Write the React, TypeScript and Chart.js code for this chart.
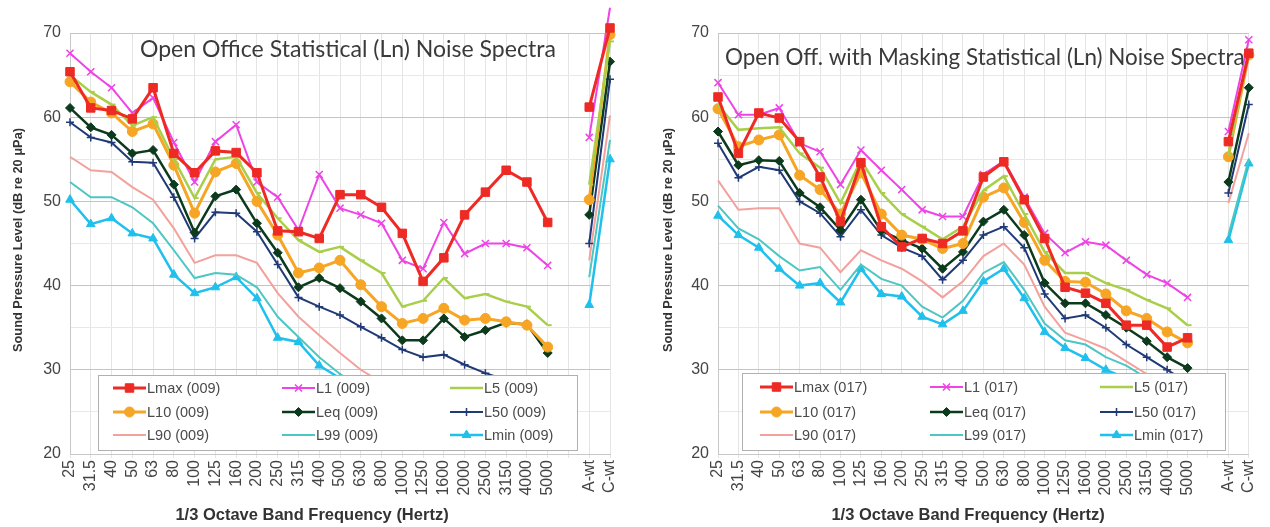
import React, { useEffect, useRef } from "react";
import { Chart, registerables } from "chart.js";
import { drawPoint } from "chart.js/helpers";
Chart.register(...registerables);

// ---------- categories ----------
const bandLabels = ["25", "31.5", "40", "50", "63", "80", "100", "125", "160", "200", "250", "315", "400", "500", "630", "800", "1000", "1250", "1600", "2000", "2500", "3150", "4000", "5000"];
const weightLabels = ["A-wt", "C-wt"];
const yTickValues = [20, 30, 40, 50, 60, 70];
const seriesNames = ["Lmax", "L1", "L5", "L10", "Leq", "L50", "L90", "L99", "Lmin"];

// ---------- Open Office (009) ----------
const officeLmax = [65.4, 61.1, 60.8, 59.8, 63.5, 55.7, 53.4, 56.0, 55.8, 53.4, 46.5, 46.4, 45.6, 50.8, 50.8, 49.3, 46.2, 40.5, 43.3, 48.4, 51.1, 53.7, 52.3, 47.5];
const officeL1 = [67.6, 65.4, 63.5, 60.5, 62.3, 57.0, 52.3, 57.1, 59.1, 52.3, 50.5, 46.6, 53.2, 49.2, 48.4, 47.4, 43.0, 42.0, 47.5, 43.8, 45.0, 45.0, 44.5, 42.4];
const officeL5 = [65.0, 63.0, 61.5, 59.0, 60.0, 55.0, 50.4, 55.0, 55.3, 51.0, 48.0, 45.4, 44.0, 44.6, 43.0, 41.5, 37.5, 38.2, 40.9, 38.5, 39.0, 38.1, 37.5, 35.3];
const officeL10 = [64.2, 61.8, 60.5, 58.3, 59.2, 54.3, 48.6, 53.5, 54.5, 50.0, 46.0, 41.5, 42.1, 43.0, 40.1, 37.5, 35.5, 36.1, 37.3, 35.9, 36.1, 35.7, 35.3, 32.7];
const officeLeq = [61.1, 58.8, 57.9, 55.7, 56.1, 52.0, 46.3, 50.6, 51.4, 47.4, 43.9, 39.8, 40.9, 39.7, 38.1, 36.1, 33.5, 33.5, 36.1, 33.9, 34.7, 35.6, 35.4, 32.0];
const officeL50 = [59.4, 57.6, 57.0, 54.7, 54.6, 50.5, 45.6, 48.7, 48.6, 46.4, 42.5, 38.6, 37.5, 36.5, 35.1, 33.8, 32.4, 31.5, 31.8, 30.6, 29.6, 28.8, 28.0, 27.0];
const officeL90 = [55.3, 53.7, 53.5, 51.7, 50.2, 46.8, 42.7, 43.6, 43.6, 42.7, 39.1, 36.3, 34.1, 32.0, 30.0, 28.5, 27.5, 27.0, 26.8, 26.0, 25.5, 25.0, 24.5, 24.0];
const officeL99 = [52.3, 50.5, 50.5, 49.3, 47.4, 44.2, 40.9, 41.5, 41.3, 39.8, 36.3, 33.9, 31.5, 29.5, 28.0, 27.0, 26.0, 25.5, 26.0, 25.0, 24.5, 24.0, 23.5, 23.0];
const officeLmin = [50.2, 47.3, 48.0, 46.2, 45.6, 41.3, 39.1, 39.8, 41.0, 38.5, 33.8, 33.3, 30.5, 29.0, 28.0, 27.0, 26.0, 25.5, 26.0, 25.0, 24.5, 24.0, 23.5, 23.0];
const officeLmaxWt = [61.2, 70.6];
const officeL1Wt = [57.6, 73.0];
const officeL5Wt = [52.0, 69.0];
const officeL10Wt = [50.2, 69.8];
const officeLeqWt = [48.4, 66.6];
const officeL50Wt = [45.0, 64.5];
const officeL90Wt = [43.0, 60.2];
const officeL99Wt = [41.0, 57.3];
const officeLminWt = [37.7, 55.0];

// ---------- Open Office with Masking (017) ----------
const maskLmax = [62.4, 55.7, 60.5, 59.9, 57.1, 52.9, 47.6, 54.6, 47.0, 44.6, 45.6, 45.0, 46.5, 52.9, 54.7, 50.2, 45.6, 39.8, 39.1, 37.9, 35.3, 35.3, 32.7, 33.8];
const maskL1 = [64.1, 60.3, 60.3, 61.1, 56.9, 55.9, 52.0, 56.1, 53.7, 51.4, 49.0, 48.2, 48.2, 53.2, 54.8, 50.5, 46.2, 43.9, 45.2, 44.8, 43.0, 41.3, 40.3, 38.6];
const maskL5 = [61.5, 58.5, 58.7, 58.8, 55.7, 54.0, 49.8, 54.9, 51.0, 48.5, 47.0, 45.5, 47.0, 51.3, 53.0, 48.5, 44.0, 41.5, 41.5, 40.3, 39.5, 38.3, 37.3, 35.3];
const maskL10 = [61.0, 56.5, 57.3, 57.9, 53.1, 51.4, 48.5, 53.4, 48.5, 46.0, 45.5, 44.4, 45.0, 50.5, 51.6, 47.5, 43.0, 40.5, 40.4, 39.0, 37.0, 36.1, 34.5, 33.2];
const maskLeq = [58.3, 54.3, 54.9, 54.8, 51.0, 49.3, 46.6, 50.2, 46.5, 45.4, 44.4, 42.0, 44.0, 47.6, 49.0, 46.0, 40.3, 37.9, 37.9, 36.5, 35.0, 33.4, 31.5, 30.2];
const maskL50 = [56.9, 52.8, 54.1, 53.7, 50.0, 48.6, 45.8, 49.0, 46.0, 44.5, 43.5, 40.7, 43.0, 46.0, 47.0, 44.5, 39.0, 36.1, 36.5, 35.0, 33.0, 31.5, 30.0, 28.5];
const maskL90 = [52.5, 49.0, 49.2, 49.2, 45.0, 44.5, 41.6, 44.2, 43.0, 42.0, 40.5, 38.6, 40.5, 43.5, 45.0, 42.5, 37.5, 34.4, 33.5, 32.5, 31.0, 29.5, 28.0, 26.5];
const maskL99 = [49.5, 46.8, 45.5, 43.5, 41.8, 42.2, 39.5, 42.5, 40.8, 40.0, 37.5, 36.2, 38.2, 41.5, 42.8, 39.5, 35.5, 33.5, 33.0, 31.5, 30.5, 29.0, 28.0, 27.0];
const maskLmin = [48.3, 46.0, 44.5, 42.0, 40.0, 40.3, 38.0, 42.0, 39.0, 38.7, 36.3, 35.4, 37.0, 40.5, 42.0, 38.5, 34.5, 32.6, 31.4, 30.0, 29.0, 28.0, 27.0, 26.0];
const maskLmaxWt = [57.1, 67.6];
const maskL1Wt = [58.3, 69.2];
const maskL5Wt = [55.5, 68.0];
const maskL10Wt = [55.3, 67.4];
const maskLeqWt = [52.3, 63.5];
const maskL50Wt = [51.0, 61.5];
const maskL90Wt = [49.8, 58.1];
const maskL99Wt = [46.0, 55.0];
const maskLminWt = [45.4, 54.5];

const categories = [...bandLabels, "", ...weightLabels];
const full = (bands: number[], wt: number[]) => [...bands, null, ...wt];

const officeSeries = [
  full(officeLmax, officeLmaxWt), full(officeL1, officeL1Wt), full(officeL5, officeL5Wt),
  full(officeL10, officeL10Wt), full(officeLeq, officeLeqWt), full(officeL50, officeL50Wt),
  full(officeL90, officeL90Wt), full(officeL99, officeL99Wt), full(officeLmin, officeLminWt),
];
const maskSeries = [
  full(maskLmax, maskLmaxWt), full(maskL1, maskL1Wt), full(maskL5, maskL5Wt),
  full(maskL10, maskL10Wt), full(maskLeq, maskLeqWt), full(maskL50, maskL50Wt),
  full(maskL90, maskL90Wt), full(maskL99, maskL99Wt), full(maskLmin, maskLminWt),
];

// ---------- styles ----------
const styles: any = {
  Lmax: { color: "#ee2a24", width: 3, point: "rect", radius: 6, bw: 1 },
  L1: { color: "#ee44e6", width: 2, point: "crossRot", radius: 5, bw: 1.5 },
  L5: { color: "#a9cf4a", width: 2.5, point: "dash", radius: 4, bw: 2 },
  L10: { color: "#f6a524", width: 3, point: "circle", radius: 5, bw: 1 },
  Leq: { color: "#0c3a1c", width: 2.5, point: "rectRot", radius: 4.5, bw: 1 },
  L50: { color: "#1f3a76", width: 2, point: "cross", radius: 4, bw: 1.5 },
  L90: { color: "#f2a19c", width: 2, point: false, radius: 0, bw: 0 },
  L99: { color: "#4ec6c2", width: 2, point: false, radius: 0, bw: 0 },
  Lmin: { color: "#20c0ec", width: 2.5, point: "triangle", radius: 5, bw: 1 },
};

const FONT = "'Liberation Sans', Arial, sans-serif";

function makeOverlay(panel: any) {
  return {
    id: "overlay",
    afterDatasetsDraw(chart: any) {
      const ctx = chart.ctx;
      ctx.save();
      // in-plot title
      let size = 20;
      ctx.font = `${size}px Lato, 'Open Sans', sans-serif`;
      const w = ctx.measureText(panel.title).width;
      size = size * (panel.titleX2 - panel.titleX1) / w;
      ctx.font = `${size}px Lato, 'Open Sans', sans-serif`;
      ctx.fillStyle = "#3a3a3a";
      ctx.textAlign = "left";
      ctx.textBaseline = "middle";
      ctx.fillText(panel.title, panel.titleX1, panel.titleY);

      // legend box
      const [bx1, by1, bx2, by2] = panel.legendBox;
      ctx.fillStyle = "#ffffff";
      ctx.fillRect(bx1, by1, bx2 - bx1, by2 - by1);
      ctx.strokeStyle = "#b0b0b0";
      ctx.lineWidth = 1;
      ctx.strokeRect(bx1 + 0.5, by1 + 0.5, bx2 - bx1, by2 - by1);

      seriesNames.forEach((name, i) => {
        const st = styles[name];
        const col = i % 3;
        const row = Math.floor(i / 3);
        const sx = panel.legendCols[col];
        const sy = panel.legendRows[row];
        ctx.strokeStyle = st.color;
        ctx.lineWidth = st.width;
        ctx.beginPath();
        ctx.moveTo(sx, sy);
        ctx.lineTo(sx + 33, sy);
        ctx.stroke();
        if (st.point) {
          ctx.fillStyle = st.color;
          ctx.strokeStyle = st.color;
          ctx.lineWidth = st.bw;
          drawPoint(ctx, { pointStyle: st.point, radius: st.radius, rotation: 0, borderWidth: st.bw }, sx + 16.5, sy);
        }
        ctx.fillStyle = "#4a4a4a";
        ctx.font = `14.5px ${FONT}`;
        ctx.textAlign = "left";
        ctx.textBaseline = "middle";
        ctx.fillText(`${name} (${panel.code})`, sx + 34, sy + 1);
      });

      // axis titles
      ctx.fillStyle = "#333";
      ctx.font = `bold 16.5px ${FONT}`;
      ctx.textAlign = "center";
      ctx.textBaseline = "middle";
      ctx.fillText("1/3 Octave Band Frequency (Hertz)", panel.xTitleX, 515);

      ctx.save();
      ctx.translate(panel.yTitleX, 240);
      ctx.rotate(-Math.PI / 2);
      ctx.font = `bold 12.8px ${FONT}`;
      ctx.fillText("Sound Pressure Level (dB re 20 \u03bcPa)", 0, 0);
      ctx.restore();
      ctx.restore();
    },
  };
}

function makeConfig(series: any[], panel: any) {
  return {
    type: "line" as const,
    data: {
      labels: categories,
      datasets: seriesNames.map((name, i) => {
        const st = styles[name];
        return {
          label: name,
          data: series[i],
          borderColor: st.color,
          backgroundColor: st.color,
          borderWidth: st.width,
          pointStyle: st.point,
          pointRadius: st.radius,
          pointBorderWidth: st.bw,
          pointBackgroundColor: st.color,
          pointBorderColor: st.color,
          tension: 0,
          spanGaps: false,
          clip: false,
        };
      }),
    },
    options: {
      responsive: false,
      animation: false,
      events: [],
      layout: { padding: { left: 0, right: panel.padRight, top: 33, bottom: 0 } },
      plugins: { legend: { display: false }, tooltip: { enabled: false }, title: { display: false } },
      scales: {
        x: {
          type: "category",
          offset: false,
          grid: { color: "#e4e4e4", lineWidth: 1, tickLength: 4, drawTicks: true },
          border: { color: "#c8c8c8", dash: [] },
          ticks: {
            autoSkip: false,
            maxRotation: 90,
            minRotation: 90,
            padding: 2,
            color: "#444",
            font: { family: FONT, size: 16 },
          },
          afterFit: (s: any) => { s.height = 73; },
        },
        y: {
          min: 20,
          max: 70,
          grid: {
            color: (c: any) => (c.tick && yTickValues.includes(c.tick.value) ? "#c4c4c4" : "#e8e8e8"),
            drawTicks: false,
          },
          border: { color: "#c8c8c8" },
          ticks: {
            stepSize: 5,
            padding: 9,
            color: "#444",
            font: { family: FONT, size: 16 },
            callback: (v: any) => (yTickValues.includes(Number(v)) ? String(v) : ""),
          },
          afterFit: (s: any) => { s.width = panel.yWidth; },
        },
      },
    },
    plugins: [makeOverlay(panel)],
  };
}

const officePanel = {
  title: "Open Office Statistical (Ln) Noise Spectra",
  titleX1: 140, titleX2: 556, titleY: 50,
  legendBox: [98, 375, 577, 450],
  legendCols: [113, 282, 450],
  legendRows: [388, 412, 435],
  code: "009",
  xTitleX: 312,
  yTitleX: 18,
  padRight: 30,
  yWidth: 70,
};
const maskPanel = {
  title: "Open Off. with Masking Statistical (Ln) Noise Spectra",
  titleX1: 85, titleX2: 605, titleY: 58,
  legendBox: [102, 373, 585, 450],
  legendCols: [120, 290, 460],
  legendRows: [387, 412, 435],
  code: "017",
  xTitleX: 328,
  yTitleX: 28,
  padRight: 8,
  yWidth: 78,
};

function Panel({ series, panel, left }: any) {
  const ref = useRef<HTMLCanvasElement | null>(null);
  useEffect(() => {
    if (!ref.current) return;
    const chart = new Chart(ref.current, makeConfig(series, panel) as any);
    return () => chart.destroy();
  }, []);
  return (
    <canvas
      ref={ref}
      width={left === 0 ? 640 : 630}
      height={527}
      style={{ position: "absolute", left, top: 0, width: left === 0 ? 640 : 630, height: 527 }}
    />
  );
}

export default function App() {
  return (
    <div style={{ position: "absolute", left: 0, top: 0, width: 1270, height: 527, background: "#fff", overflow: "hidden" }}>
      <Panel series={officeSeries} panel={officePanel} left={0} />
      <Panel series={maskSeries} panel={maskPanel} left={640} />
    </div>
  );
}
